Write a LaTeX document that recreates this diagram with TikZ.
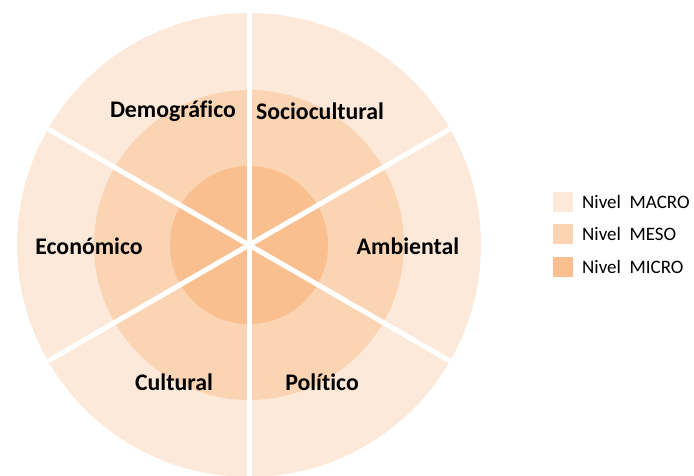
\documentclass[tikz,border=0pt]{standalone}
\usepackage{fontspec}
\setmainfont{Carlito}[Ligatures={NoCommon}]
\definecolor{macro}{HTML}{FDE9D9}
\definecolor{meso}{HTML}{FBD4B4}
\definecolor{micro}{HTML}{FABF8F}
\tikzset{
  seglabel/.style={font=\fontsize{23.8}{26}\selectfont\bfseries, text=black, inner sep=0pt},
  legtext/.style={font=\fontsize{19}{21}\selectfont, text=black, anchor=west, inner sep=0pt},
  legbox/.style={minimum width=20pt, minimum height=20pt, inner sep=0pt, draw=none},
  divider/.style={white, line width=5pt}
}
\begin{document}
\begin{tikzpicture}[x=1pt,y=-1pt]
\useasboundingbox (0,0) rectangle (694,476);
\coordinate (c) at (249,245);
\fill[macro] (c) circle (232);
\fill[meso] (c) circle (155);
\fill[micro] (c) circle (79);
\foreach \a in {30,150,210,330} {
  \draw[divider] (c) -- ++(\a:232);
}
\draw[divider] (249,11) -- (249,478);
\node[seglabel] (dem) at (173,111) {Demográfico};
\node[seglabel] (soc) at (320,111) {Sociocultural};
\node[seglabel] (eco) at (89,246) {Económico};
\node[seglabel] (amb) at (408,246) {Ambiental};
\node[seglabel] (cul) at (174,382) {Cultural};
\node[seglabel] (pol) at (322,382) {Político};
\node[legbox, fill=macro] (b1) at (563,202) {};
\node[legbox, fill=meso] (b2) at (563,234) {};
\node[legbox, fill=micro] (b3) at (563,267) {};
\node[legtext] (t1) at (582,202) {Nivel\ \ MACRO};
\node[legtext] (t2) at (582,234) {Nivel\ \ MESO};
\node[legtext] (t3) at (582,267) {Nivel\ \ MICRO};
\end{tikzpicture}
\end{document}
